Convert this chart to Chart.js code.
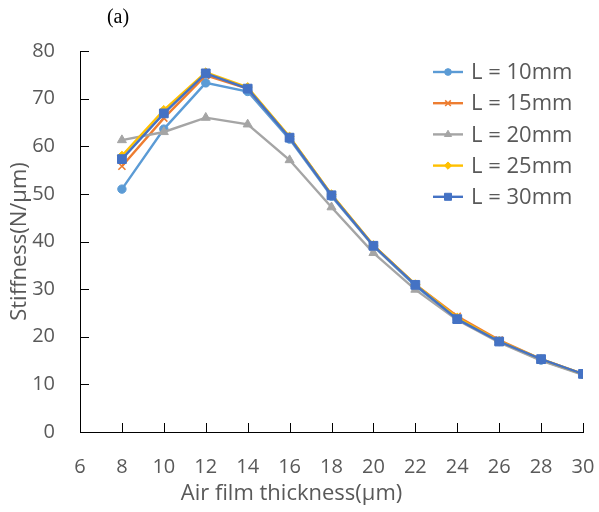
<!DOCTYPE html>
<html>
<head>
<meta charset="utf-8">
<script src="https://cdn.jsdelivr.net/npm/chart.js@4.4.1/dist/chart.umd.min.js"></script>
<style>
  html, body { margin: 0; padding: 0; background: #fff; }
  #wrap { width: 599px; height: 512px; position: relative; }
</style>
</head>
<body>
<div id="wrap"><canvas id="c" width="599" height="512"></canvas></div>
<script>
// ---- data ----
const thickness = [8, 10, 12, 14, 16, 18, 20, 22, 24, 26, 28, 30];
const seriesLabels = ['L = 10mm', 'L = 15mm', 'L = 20mm', 'L = 25mm', 'L = 30mm'];
const L10 = [51.0, 63.6, 73.3, 71.5, 61.5, 49.5, 39.0, 30.7, 23.7, 19.0, 15.1, 12.1];
const L15 = [55.8, 65.9, 74.9, 72.1, 61.9, 49.8, 39.2, 31.0, 24.3, 19.3, 15.3, 12.2];
const L20 = [61.3, 63.0, 66.0, 64.6, 57.1, 47.2, 37.6, 29.9, 23.5, 18.8, 15.0, 12.0];
const L25 = [58.0, 67.6, 75.5, 72.4, 62.0, 49.9, 39.2, 31.0, 24.0, 19.1, 15.3, 12.2];
const L30 = [57.3, 66.9, 75.3, 72.1, 61.8, 49.7, 39.1, 30.9, 23.7, 19.0, 15.3, 12.2];
const xTickMin = 6, xTickMax = 30, xTickStep = 2;
const yTickMin = 0, yTickMax = 80, yTickStep = 10;
const xTitle = 'Air film thickness(μm)';
const yTitle = 'Stiffness(N/μm)';
const panelLabel = '(a)';

// ---- styles ----
const allValues = [L10, L15, L20, L25, L30];
const colors = ['#5B9BD5', '#ED7D31', '#A5A5A5', '#FFC000', '#4472C4'];
const styles = ['circle', 'crossRot', 'triangle', 'rectRot', 'rect'];
const radii = [4.2, 5, 5.2, 4.6, 6.2];
const textColor = '#595959';
const FONT = "'Open Sans', 'Noto Sans', sans-serif";

const datasets = allValues.map((vals, i) => ({
  label: seriesLabels[i],
  data: vals.map((v, j) => ({ x: thickness[j], y: v })),
  borderColor: colors[i],
  backgroundColor: colors[i],
  pointBackgroundColor: colors[i],
  pointBorderColor: colors[i],
  pointBorderWidth: styles[i] === 'crossRot' ? 1.6 : 1,
  pointStyle: styles[i],
  pointRadius: radii[i],
  pointHoverRadius: radii[i],
  borderWidth: 2.4,
  tension: 0,
  order: allValues.length - 1 - i
}));

const innerTicks = {
  id: 'innerTicks',
  beforeDatasetsDraw(chart) {
    const ctx = chart.ctx;
    const xs = chart.scales.x, ys = chart.scales.y;
    const ca = chart.chartArea;
    ctx.save();
    ctx.strokeStyle = '#000';
    ctx.lineWidth = 1;
    xs.ticks.forEach(t => {
      const px = Math.round(xs.getPixelForValue(t.value)) + 0.5;
      ctx.beginPath(); ctx.moveTo(px, ca.bottom); ctx.lineTo(px, ca.bottom - 9); ctx.stroke();
    });
    ys.ticks.forEach(t => {
      const py = Math.round(ys.getPixelForValue(t.value)) + 0.5;
      ctx.beginPath(); ctx.moveTo(ca.left, py); ctx.lineTo(ca.left + 9, py); ctx.stroke();
    });
    ctx.restore();
  }
};

const customLegend = {
  id: 'customLegend',
  afterDraw(chart) {
    const ctx = chart.ctx;
    ctx.save();
    chart.data.datasets.forEach((ds, i) => {
      const y = 72 + i * 31.2;
      ctx.strokeStyle = ds.borderColor;
      ctx.lineWidth = 2.4;
      ctx.beginPath(); ctx.moveTo(433, y); ctx.lineTo(463, y); ctx.stroke();
      const r = ds.pointRadius * 0.8;
      if (Chart.helpers && Chart.helpers.drawPoint) {
        ctx.fillStyle = ds.pointBackgroundColor;
        ctx.strokeStyle = ds.pointBorderColor;
        ctx.lineWidth = ds.pointBorderWidth;
        Chart.helpers.drawPoint(ctx, { pointStyle: ds.pointStyle, radius: r, rotation: 0, borderWidth: ds.pointBorderWidth }, 448, y);
      }
      ctx.fillStyle = textColor;
      ctx.font = "22px " + FONT;
      ctx.textBaseline = 'middle';
      ctx.textAlign = 'left';
      ctx.fillText(ds.label, 471, y + 1);
    });
    // panel label
    ctx.fillStyle = '#000';
    ctx.font = "20px 'Liberation Serif', 'Times New Roman', serif";
    ctx.textAlign = 'center';
    ctx.textBaseline = 'middle';
    ctx.fillText(panelLabel, 118, 18);
    ctx.restore();
  }
};

new Chart(document.getElementById('c'), {
  type: 'line',
  data: { datasets },
  options: {
    responsive: false,
    animation: false,
    events: [],
    layout: { padding: { top: 51, right: 16, left: 0, bottom: 0 } },
    plugins: {
      legend: { display: false },
      tooltip: { enabled: false },
      title: {
        display: true,
        position: 'bottom',
        text: xTitle,
        color: textColor,
        font: { family: FONT, size: 22, weight: 'normal' },
        padding: { top: 0, bottom: 5 }
      }
    },
    scales: {
      x: {
        type: 'linear',
        min: xTickMin, max: xTickMax,
        grid: { display: false },
        border: { display: true, color: '#000', width: 1 },
        ticks: { stepSize: xTickStep, color: textColor, font: { family: FONT, size: 20 }, padding: 15, maxRotation: 0 },
        afterFit(scale) {
          scale.height = 512 - (22 * 1.2 + 5) - 432;
          scale.paddingLeft = 0;
          scale.paddingRight = 0;
        }
      },
      y: {
        min: yTickMin, max: yTickMax,
        grid: { display: false },
        border: { display: true, color: '#000', width: 1 },
        ticks: { stepSize: yTickStep, color: textColor, font: { family: FONT, size: 20 }, padding: 17 },
        title: { display: true, text: yTitle, color: textColor, font: { family: FONT, size: 22 }, padding: { top: 7, bottom: 0 } },
        afterFit(scale) { scale.width = 80; }
      }
    }
  },
  plugins: [innerTicks, customLegend]
});
</script>
</body>
</html>
